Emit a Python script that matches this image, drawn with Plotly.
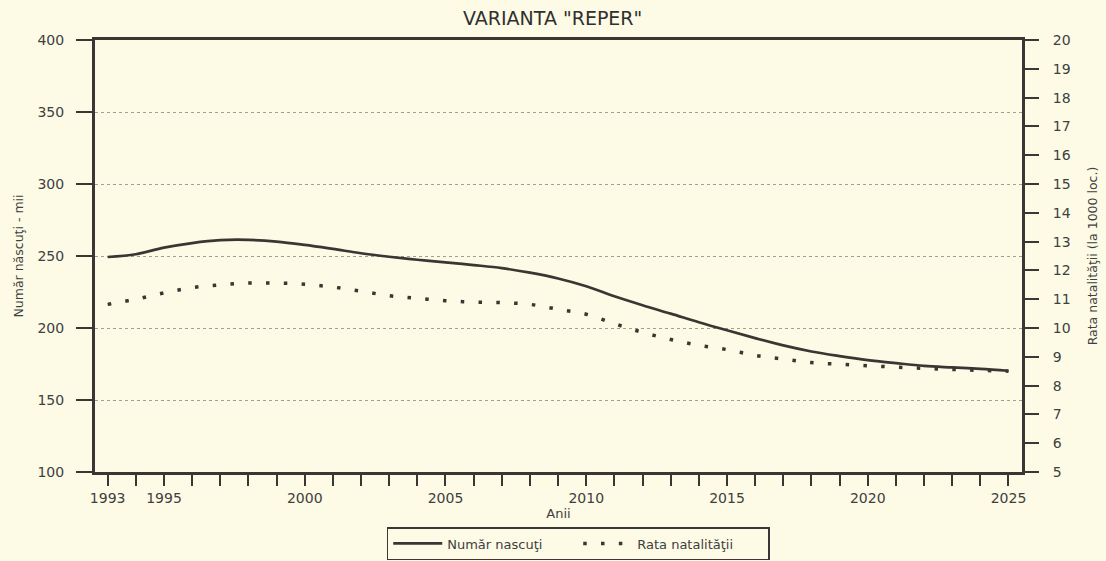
import plotly.graph_objects as go

years = list(range(1993, 2026))
births = [249.3, 251.2, 255.8, 259.0, 261.0, 261.2, 260.0, 257.7, 254.9, 251.9,
          249.5, 247.4, 245.6, 243.7, 241.6, 238.4, 234.4, 229.0, 222.0, 215.8,
          210.0, 204.0, 198.4, 193.0, 187.9, 183.7, 180.5, 177.7, 175.6, 173.7,
          172.6, 171.6, 170.3]
rate = [10.82, 11.0, 11.22, 11.4, 11.5, 11.56, 11.56, 11.52, 11.42, 11.28,
        11.12, 11.03, 10.95, 10.9, 10.88, 10.82, 10.65, 10.48, 10.15, 9.85,
        9.6, 9.4, 9.25, 9.05, 8.92, 8.8, 8.74, 8.69, 8.64, 8.6,
        8.56, 8.53, 8.5]
year_labels = [1993, 1995, 2000, 2005, 2010, 2015, 2020, 2025]
left_ticks = [100, 150, 200, 250, 300, 350, 400]
right_ticks = list(range(5, 21))

title_text = 'VARIANTA "REPER"'
name_births = "Număr nascuţi"
name_rate = "Rata natalităţii"
ytitle_left = "Număr născuţi - mii"
ytitle_right = "Rata natalităţii (la 1000 loc.)"
xtitle = "Anii"

ink = "#3a3633"
txt = "#404040"
bg = "#fdfbe5"
wide_font = "DejaVu Sans, Verdana, sans-serif"

fig = go.Figure()
fig.add_trace(go.Scatter(x=years, y=births, name=name_births, mode="lines",
                         line=dict(color=ink, width=2.7, shape="spline"),
                         yaxis="y"))
fig.add_trace(go.Scatter(x=years, y=rate, name=name_rate, mode="lines",
                         line=dict(color=ink, width=3.5, shape="spline", dash="3.5px,14.3px"),
                         yaxis="y2"))

fig.update_layout(
    template="none",
    width=1106, height=561, autosize=False,
    margin=dict(l=95, r=84, t=40, b=89),
    paper_bgcolor=bg, plot_bgcolor=bg,
    font=dict(family=wide_font, color=txt, size=13),
    showlegend=True,
    legend=dict(orientation="h", x=0.3147, xanchor="left",
                yref="container", y=1 - 527 / 561, yanchor="top",
                bordercolor=ink, borderwidth=1.5, bgcolor=bg, itemwidth=49,
                font=dict(size=13, color=txt), entrywidth=126, entrywidthmode="pixels"),
    annotations=[dict(text=title_text, xref="paper", yref="paper", x=0.4935, y=1.0,
                      yshift=22, showarrow=False, xanchor="center", yanchor="middle",
                      font=dict(size=19, color="#303030"))],
    xaxis=dict(range=[1992.55, 2025.48], tickmode="array", tickvals=years,
               ticktext=[str(y) if y in year_labels else "" for y in years],
               ticks="outside", ticklen=11, tickwidth=2, tickcolor=ink,
               ticklabelstandoff=0, automargin=False,
               showline=True, linewidth=3, linecolor=ink, mirror=True,
               showgrid=False, zeroline=False,
               title=dict(text=xtitle, font=dict(size=13), standoff=0),
               tickfont=dict(size=14)),
    yaxis=dict(range=[100, 400], tickmode="array", tickvals=left_ticks,
               ticks="outside", ticklen=16, tickwidth=2, tickcolor=ink,
               ticklabelstandoff=9, automargin=False,
               showline=True, linewidth=3, linecolor=ink,
               showgrid=True, gridcolor="#a19f94", gridwidth=1, griddash="dot",
               zeroline=False,
               title=dict(text=ytitle_left, font=dict(size=12.5), standoff=12),
               tickfont=dict(size=14)),
    yaxis2=dict(range=[5, 20], tickmode="array", tickvals=right_ticks,
                overlaying="y", side="right",
                ticks="outside", ticklen=14, tickwidth=2, tickcolor=ink,
                ticklabelstandoff=11, automargin=False,
                showline=True, linewidth=3, linecolor=ink,
                showgrid=False, zeroline=False,
                title=dict(text=ytitle_right, font=dict(size=12.5), standoff=19),
                tickfont=dict(size=14)),
)

fig.write_html("out.html", config={"responsive": False, "displayModeBar": False},
               post_script="document.body.style.margin='0';document.body.style.overflow='hidden';")
